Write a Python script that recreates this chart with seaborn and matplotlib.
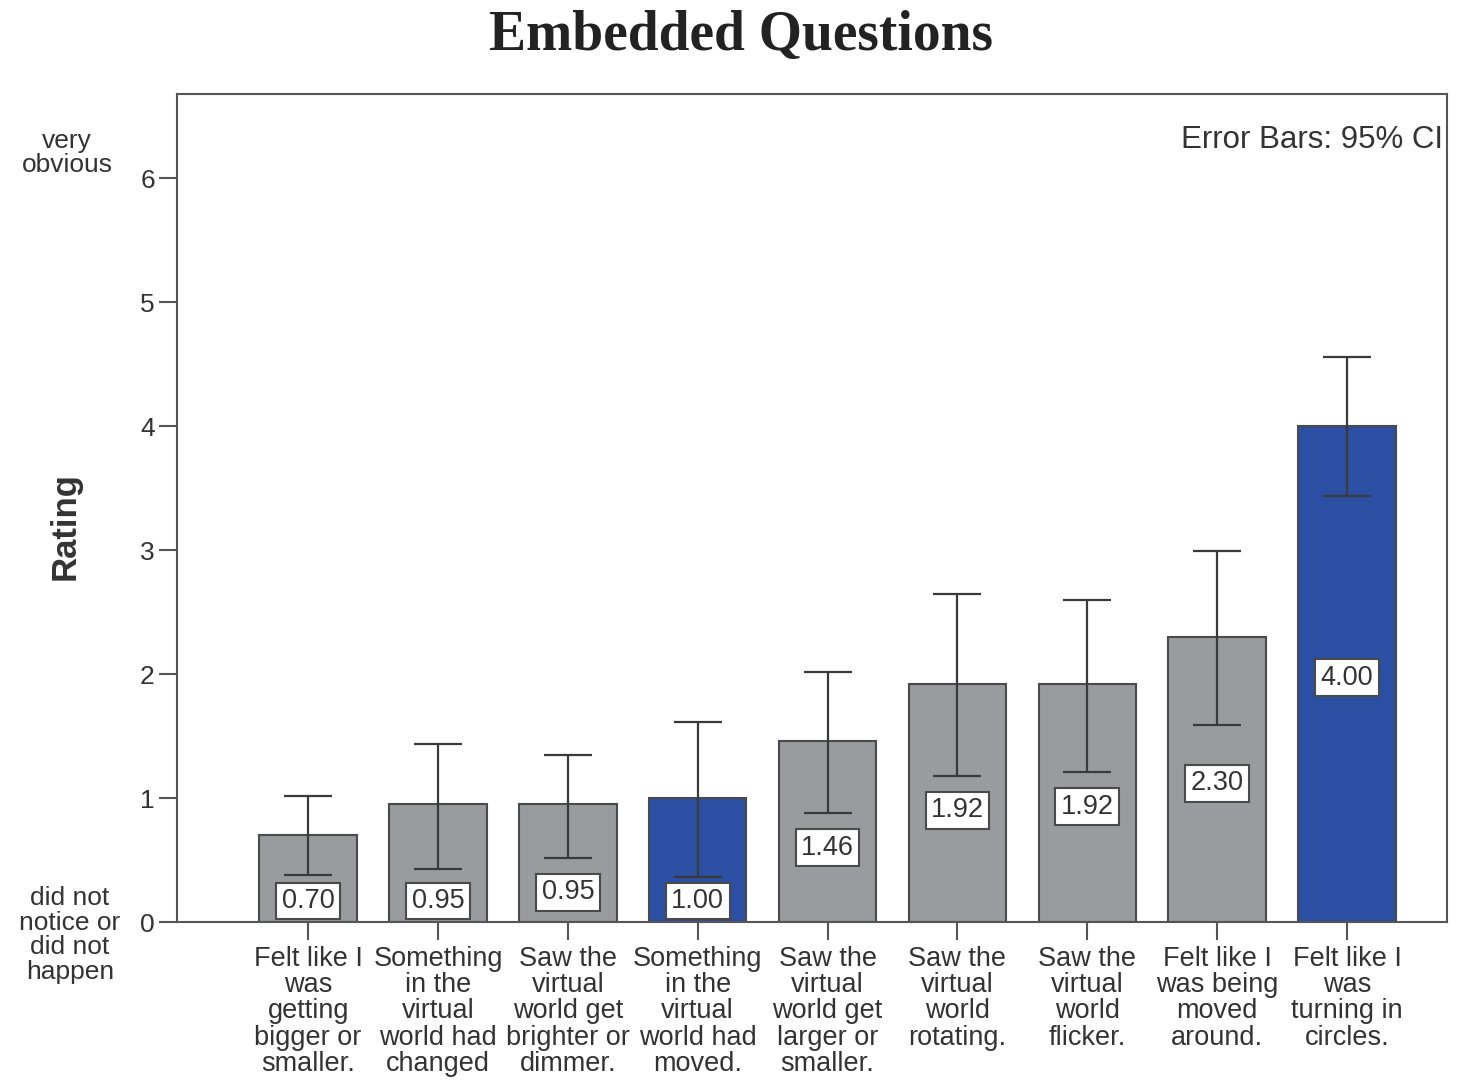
import numpy as np
import pandas as pd
import matplotlib
matplotlib.use("Agg")
import matplotlib.pyplot as plt
import seaborn as sns

# Mean ratings for each embedded question, with 95% CI bounds
questions = [
    "Felt like I\nwas\ngetting\nbigger or\nsmaller.",
    "Something\nin the\nvirtual\nworld had\nchanged",
    "Saw the\nvirtual\nworld get\nbrighter or\ndimmer.",
    "Something\nin the\nvirtual\nworld had\nmoved.",
    "Saw the\nvirtual\nworld get\nlarger or\nsmaller.",
    "Saw the\nvirtual\nworld\nrotating.",
    "Saw the\nvirtual\nworld\nflicker.",
    "Felt like I\nwas being\nmoved\naround.",
    "Felt like I\nwas\nturning in\ncircles.",
]
means = [0.70, 0.95, 0.95, 1.00, 1.46, 1.92, 1.92, 2.30, 4.00]
ci_lower = [0.38, 0.43, 0.52, 0.36, 0.88, 1.18, 1.21, 1.59, 3.44]
ci_upper = [1.02, 1.44, 1.35, 1.61, 2.02, 2.65, 2.60, 2.99, 4.56]
highlight = [False, False, False, True, False, False, False, False, True]

GRAY = "#9a9b9f"
BLUE = "#2b4fa2"
EDGE = "#4a4a4a"
TXT = "#333333"

df = pd.DataFrame({"question": questions, "rating": means,
                   "group": ["hi" if h else "lo" for h in highlight]})

sns.set_theme(style="white")
plt.rcParams["font.family"] = ["Liberation Sans", "DejaVu Sans"]

fig = plt.figure(figsize=(14.81, 10.86), dpi=100)
ax = fig.add_axes([177 / 1481, 1 - 922 / 1086, (1447 - 177) / 1481, (922 - 94) / 1086])

sns.barplot(data=df, x="question", y="rating", hue="group",
            palette={"lo": GRAY, "hi": BLUE}, dodge=False, width=0.75,
            saturation=1, errorbar=None, edgecolor=EDGE, linewidth=1.5,
            legend=False, ax=ax)

pos = np.arange(len(means))
m = np.array(means)
lo = np.array(ci_lower)
hi = np.array(ci_upper)
ax.errorbar(pos, m, yerr=[m - lo, hi - m], fmt="none", ecolor="#3a3a3a",
            elinewidth=1.6, capsize=17, capthick=1.6, zorder=3)

# value boxes inside the bars, kept clear of the lower CI cap
for x, v, l in zip(pos, m, lo):
    y = max(0.2, min(v / 2, l - 0.25))
    ax.text(x, y - 0.03, f"{v:.2f}", ha="center", va="center", fontsize=19.5,
            color=TXT, zorder=5,
            bbox=dict(boxstyle="square,pad=0.2", fc="white", ec=EDGE, lw=1.5))

ax.set_xlim(-1.01, 8.77)
ax.set_ylim(0, 6.68)
ax.set_yticks(range(7))
ax.set_yticklabels([str(i) for i in range(7)], fontsize=19, color=TXT)
ax.set_xticks(pos)
ax.set_xticklabels(questions, fontsize=19.5, color=TXT, linespacing=1.02)
ax.tick_params(axis="both", which="both", direction="out", length=13,
               width=1.5, color="#555555", pad=3, left=True, bottom=True)
ax.tick_params(axis="x", pad=4)
ax.set_xlabel("")
ax.set_ylabel("Rating", fontsize=25, fontweight="bold", color=TXT)
ax.yaxis.set_label_coords(-0.075, (922 - 526) / (922 - 94))
for s in ax.spines.values():
    s.set_color("#555555")
    s.set_linewidth(1.5)

ax.text(0.997, 0.945, "Error Bars: 95% CI", transform=ax.transAxes,
        ha="right", va="center", fontsize=22.5, color=TXT)

fig.text(67 / 1481, 1 - 153 / 1086, "very\nobvious", ha="center", va="center",
         fontsize=19, color=TXT, linespacing=0.95)
fig.text(70 / 1481, 1 - 935 / 1086, "did not\nnotice or\ndid not\nhappen",
         ha="center", va="center", fontsize=19, color=TXT, linespacing=1.05)

fig.text(741 / 1481, 1 - 36 / 1086, "Embedded Questions", ha="center",
         va="center", fontsize=40, fontweight="bold", color="#222222",
         family=["Liberation Serif", "DejaVu Serif"])

fig.savefig("out.png", dpi=100)
